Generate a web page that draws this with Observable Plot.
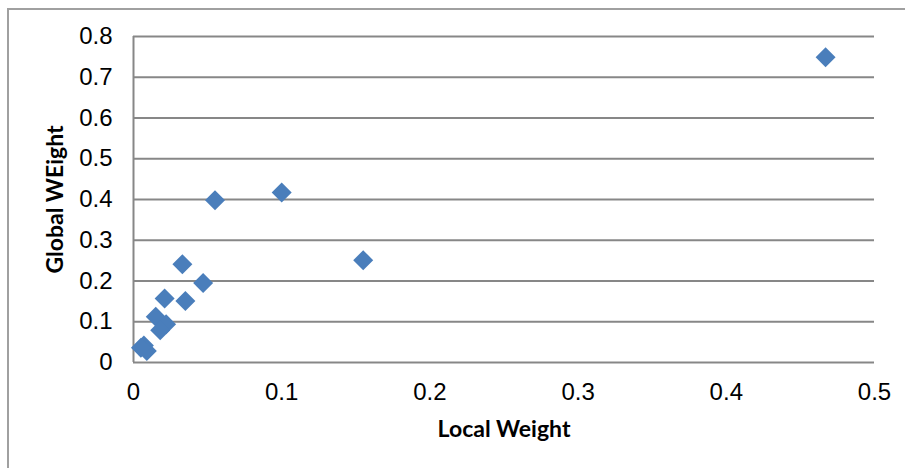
<!DOCTYPE html>
<html>
<head>
<meta charset="utf-8">
<script src="https://cdn.jsdelivr.net/npm/d3@7"></script>
<script src="https://cdn.jsdelivr.net/npm/@observablehq/plot@0.6"></script>
<style>
  html, body { margin: 0; padding: 0; background: #fff; overflow: hidden; }
  #wrap { position: relative; width: 905px; height: 468px; }
  #border { position: absolute; left: 7px; top: 8px; width: 1000px; height: 1000px;
            border: 2px solid #a0a0a0; box-sizing: border-box; }
  #chart { position: absolute; left: 0; top: 0; }
</style>
</head>
<body>
<div id="wrap"><div id="border"></div><div id="chart"></div></div>
<script>
const localWeight  = [0.467, 0.100, 0.055, 0.155, 0.033, 0.047, 0.035, 0.021, 0.015, 0.022, 0.018, 0.007, 0.009, 0.005];
const globalWeight = [0.749, 0.417, 0.398, 0.251, 0.241, 0.195, 0.151, 0.157, 0.112, 0.094, 0.079, 0.042, 0.028, 0.036];
const xTicks = [0, 0.1, 0.2, 0.3, 0.4, 0.5];
const yTicks = [0, 0.1, 0.2, 0.3, 0.4, 0.5, 0.6, 0.7, 0.8];
const xTitle = "Local Weight";
const yTitle = "Global WEight";

const data = localWeight.map((x, i) => ({x, y: globalWeight[i]}));
const titleFont = "Lato";
const tickFont = "Liberation Sans";

const chart = Plot.plot({
  width: 905,
  height: 468,
  marginLeft: 133,
  marginRight: 31,
  marginTop: 36,
  marginBottom: 106,
  style: {background: "transparent"},
  x: {domain: [0, 0.5], axis: null},
  y: {domain: [0, 0.8], axis: null},
  marks: [
    Plot.ruleY(yTicks, {stroke: "#878787", strokeWidth: 2}),
    Plot.ruleX([0], {y1: 0, y2: 0.8, stroke: "#878787", strokeWidth: 2}),
    Plot.text(xTicks, {x: d => d, frameAnchor: "bottom", dy: 30, lineAnchor: "middle", textAnchor: "middle", text: d => String(d), fontSize: 24, fontFamily: tickFont, fill: "#000"}),
    Plot.text(yTicks, {y: d => d, frameAnchor: "left", dx: -21, lineAnchor: "middle", textAnchor: "end", text: d => String(d), fontSize: 24, fontFamily: tickFont, fill: "#000"}),
    Plot.dot(data, {x: "x", y: "y", symbol: "diamond2", r: 9, fill: "#4a7ebb", stroke: "none"}),
    Plot.text([xTitle], {frameAnchor: "bottom", dy: 67, lineAnchor: "middle", textAnchor: "middle", fontWeight: "bold", fontSize: 23, fontFamily: titleFont, fill: "#000"}),
    Plot.text([yTitle], {frameAnchor: "left", dx: -78, rotate: -90, lineAnchor: "middle", textAnchor: "middle", fontWeight: "bold", fontSize: 23, fontFamily: titleFont, fill: "#000"})
  ]
});
document.getElementById("chart").appendChild(chart);
</script>
</body>
</html>
